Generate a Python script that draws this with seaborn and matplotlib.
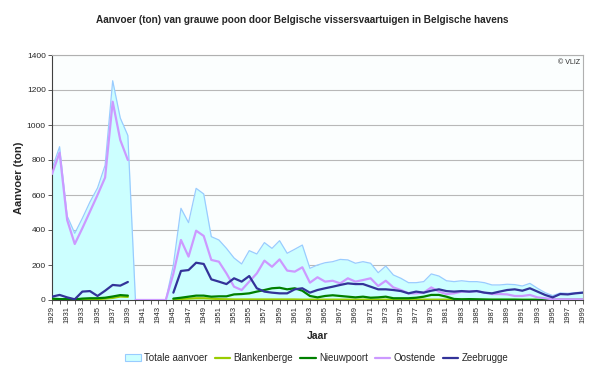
import numpy as np
import pandas as pd
import seaborn as sns
import matplotlib.pyplot as plt
from matplotlib.patches import Patch
from matplotlib.lines import Line2D

years = list(range(1929, 2000))

# Totale aanvoer (ton)
totaal = [750, 876, 480, 381, 467, 560, 640, 770, 1253, 1040, 940,
          0, 0, 0, 0, 0,
          200, 524, 442, 638, 606, 362, 343, 295, 240, 206,
          282, 263, 328, 295, 339, 267, 290, 314, 181, 200,
          213, 219, 232, 229, 210, 219, 210, 156, 194, 143,
          124, 99, 99, 105, 149, 137, 110, 105, 110, 105,
          105, 99, 86, 86, 90, 88, 80, 95, 67, 42,
          25, 40, 38, 42, 45]

oostende = [720, 842, 457, 320, 410, 505, 600, 700, 1133, 914, 800,
            0, 0, 0, 0, 0,
            150, 343, 248, 396, 366, 229, 219, 152, 76, 57,
            105, 152, 225, 190, 232, 168, 162, 187, 99, 130,
            105, 110, 95, 124, 105, 114, 124, 80, 110, 72,
            57, 38, 38, 42, 72, 48, 34, 38, 48, 48,
            51, 42, 34, 34, 32, 23, 23, 29, 15, 10,
            4, 4, 4, 4, 4]

zeebrugge = [19, 29, 15, 4, 48, 51, 23, 53, 86, 82, 103,
             None, None, None, None, None,
             42, 166, 171, 213, 206, 118, 105, 91, 124, 105,
             137, 67, 48, 42, 38, 38, 61, 67, 42, 57,
             67, 76, 86, 95, 91, 91, 76, 61, 61, 57,
             51, 38, 48, 42, 53, 61, 51, 48, 51, 48,
             51, 42, 38, 48, 57, 61, 53, 67, 48, 29,
             15, 34, 32, 38, 42]

nieuwpoort = [8, 5, 5, 3, 8, 10, 10, 13, 20, 28, 25,
              None, None, None, None, None,
              8, 13, 19, 25, 25, 19, 21, 21, 32, 34,
              38, 48, 57, 67, 70, 61, 67, 53, 23, 15,
              23, 27, 23, 19, 15, 19, 13, 15, 19, 10,
              10, 10, 13, 19, 29, 29, 19, 6, 4, 5,
              4, 3, 2, 2, 2, 2, 1, 1, 1, 1,
              1, 1, 1, 1, 1]

blankenberge = [2, 3, 2, 1, 3, 5, 5, 8, 12, 20, 18,
                None, None, None, None, None,
                4, 6, 8, 10, 10, 8, 5, 4, 3, 3,
                3, 3, 3, 3, 3, 3, 3, 2, 2, 2,
                2, 2, 2, 2, 2, 2, 2, 2, 2, 2,
                2, 2, 2, 2, 2, 2, 2, 2, 2, 2,
                1, 1, 1, 1, 1, 1, 1, 1, 1, 1,
                1, 1, 1, 1, 1]

series = {
    "Blankenberge": blankenberge,
    "Nieuwpoort": nieuwpoort,
    "Oostende": oostende,
    "Zeebrugge": zeebrugge,
}
colors = {
    "Blankenberge": "#99CC00",
    "Nieuwpoort": "#008000",
    "Oostende": "#CC99FF",
    "Zeebrugge": "#333399",
}

rows = []
for name, vals in series.items():
    for yr, v in zip(years, vals):
        if v is None:
            continue
        # Excel leaves the lines broken at the war years
        rows.append({"Jaar": yr, "ton": v, "haven": name,
                     "deel": "voor" if yr <= 1939 else "na"})
df = pd.DataFrame(rows)

sns.set_style("white")
plt.rcParams["font.family"] = ["Liberation Sans", "DejaVu Sans"]

fig = plt.figure(figsize=(6.0, 3.68), dpi=100)
ax = fig.add_axes([52 / 600, 1 - 300 / 368, 531 / 600, 245 / 368])
ax.set_facecolor("#FBFEFE")

ax.fill_between(years, totaal, 0, color="#CCFFFF", lw=0, zorder=1)
ax.plot(years, totaal, color="#99CCFF", lw=0.9, zorder=2)

sns.lineplot(data=df, x="Jaar", y="ton", hue="haven", units="deel",
             estimator=None, palette=colors, lw=1.6, legend=False,
             ax=ax, zorder=3)

ax.set_xlim(1929, 1999)
ax.set_ylim(0, 1400)
ax.set_yticks(range(0, 1401, 200))
ax.set_xticks(range(1929, 2000, 2))
ax.set_xticks(range(1929, 2000), minor=True)
ax.set_xticklabels([str(y) for y in range(1929, 2000, 2)], rotation=90)
ax.tick_params(axis="x", which="both", direction="out", length=3,
               width=0.6, color="#404040", labelsize=5.5, pad=1,
               bottom=True)
ax.tick_params(axis="y", direction="out", length=3, width=0.6,
               color="#404040", labelsize=6, pad=1.5, left=True)
ax.yaxis.grid(True, color="#B8B8B8", lw=0.8, zorder=0)
ax.set_axisbelow(True)
for s in ["top", "right"]:
    ax.spines[s].set_color("#B0B0B0")
    ax.spines[s].set_linewidth(0.8)
for s in ["left", "bottom"]:
    ax.spines[s].set_color("#404040")
    ax.spines[s].set_linewidth(0.8)

ax.set_ylabel("Aanvoer (ton)", fontsize=8, fontweight="bold", labelpad=2)
ax.set_xlabel("Jaar", fontsize=7.5, fontweight="bold", labelpad=6)

fig.text(0.503, 1 - 20 / 368,
         "Aanvoer (ton) van grauwe poon door Belgische vissersvaartuigen in Belgische havens",
         ha="center", va="center", fontsize=7.2, fontweight="bold")
ax.text(0.995, 0.985, "© VLIZ", transform=ax.transAxes, ha="right",
        va="top", fontsize=5)

handles = [Patch(facecolor="#CCFFFF", edgecolor="#99CCFF", lw=0.8,
                 label="Totale aanvoer")]
for name in series:
    handles.append(Line2D([], [], color=colors[name], lw=1.6, label=name))
fig.legend(handles=handles, loc="center", bbox_to_anchor=(0.528, 1 - 358 / 368),
           ncol=5, frameon=False, fontsize=7, handlelength=1.6,
           handletextpad=0.35, columnspacing=0.7, borderaxespad=0)

fig.savefig("out.png", dpi=100)
